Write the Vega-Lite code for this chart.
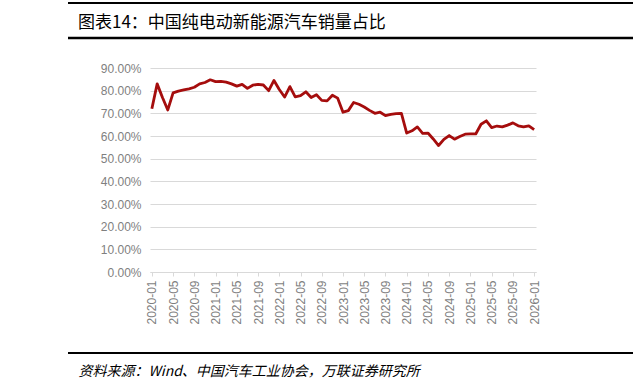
{
  "$schema": "https://vega.github.io/schema/vega-lite/v6.json",
  "width": 386,
  "height": 204,
  "autosize": {"type": "none"},
  "padding": {"left": 150, "top": 68, "right": 97, "bottom": 117},
  "background": "#ffffff",
  "config": {"view": {"stroke": null}, "font": "Liberation Sans"},
  "title": {
    "text": "图表14：中国纯电动新能源汽车销量占比",
    "anchor": "start",
    "frame": "group",
    "dx": -72,
    "dy": 34,
    "font": "Noto Sans CJK SC",
    "fontSize": 17,
    "fontWeight": "normal",
    "color": "#000000"
  },
  "layer": [
    {
      "data": {
        "values": [
          {"month": "2020-01", "share": 0.720}, {"month": "2020-02", "share": 0.830}, {"month": "2020-03", "share": 0.770}, {"month": "2020-04", "share": 0.715},
          {"month": "2020-05", "share": 0.790}, {"month": "2020-06", "share": 0.798}, {"month": "2020-07", "share": 0.803}, {"month": "2020-08", "share": 0.808},
          {"month": "2020-09", "share": 0.815}, {"month": "2020-10", "share": 0.830}, {"month": "2020-11", "share": 0.836}, {"month": "2020-12", "share": 0.848},
          {"month": "2021-01", "share": 0.840}, {"month": "2021-02", "share": 0.841}, {"month": "2021-03", "share": 0.838}, {"month": "2021-04", "share": 0.830},
          {"month": "2021-05", "share": 0.820}, {"month": "2021-06", "share": 0.828}, {"month": "2021-07", "share": 0.810}, {"month": "2021-08", "share": 0.824},
          {"month": "2021-09", "share": 0.828}, {"month": "2021-10", "share": 0.825}, {"month": "2021-11", "share": 0.800}, {"month": "2021-12", "share": 0.845},
          {"month": "2022-01", "share": 0.805}, {"month": "2022-02", "share": 0.772}, {"month": "2022-03", "share": 0.818}, {"month": "2022-04", "share": 0.773},
          {"month": "2022-05", "share": 0.778}, {"month": "2022-06", "share": 0.795}, {"month": "2022-07", "share": 0.770}, {"month": "2022-08", "share": 0.782},
          {"month": "2022-09", "share": 0.757}, {"month": "2022-10", "share": 0.755}, {"month": "2022-11", "share": 0.780}, {"month": "2022-12", "share": 0.767},
          {"month": "2023-01", "share": 0.705}, {"month": "2023-02", "share": 0.712}, {"month": "2023-03", "share": 0.748}, {"month": "2023-04", "share": 0.740},
          {"month": "2023-05", "share": 0.728}, {"month": "2023-06", "share": 0.713}, {"month": "2023-07", "share": 0.700}, {"month": "2023-08", "share": 0.705},
          {"month": "2023-09", "share": 0.690}, {"month": "2023-10", "share": 0.695}, {"month": "2023-11", "share": 0.699}, {"month": "2023-12", "share": 0.700},
          {"month": "2024-01", "share": 0.613}, {"month": "2024-02", "share": 0.623}, {"month": "2024-03", "share": 0.640}, {"month": "2024-04", "share": 0.612},
          {"month": "2024-05", "share": 0.613}, {"month": "2024-06", "share": 0.587}, {"month": "2024-07", "share": 0.558}, {"month": "2024-08", "share": 0.585},
          {"month": "2024-09", "share": 0.602}, {"month": "2024-10", "share": 0.586}, {"month": "2024-11", "share": 0.598}, {"month": "2024-12", "share": 0.608},
          {"month": "2025-01", "share": 0.609}, {"month": "2025-02", "share": 0.609}, {"month": "2025-03", "share": 0.652}, {"month": "2025-04", "share": 0.667},
          {"month": "2025-05", "share": 0.637}, {"month": "2025-06", "share": 0.644}, {"month": "2025-07", "share": 0.640}, {"month": "2025-08", "share": 0.648},
          {"month": "2025-09", "share": 0.658}, {"month": "2025-10", "share": 0.645}, {"month": "2025-11", "share": 0.640}, {"month": "2025-12", "share": 0.645},
          {"month": "2026-01", "share": 0.628}
        ]
      },
      "mark": {"type": "line", "color": "#a50d0d", "strokeWidth": 2.8, "strokeJoin": "round"},
      "encoding": {
        "x": {
          "field": "month",
          "type": "ordinal",
          "scale": {"type": "point", "padding": 0.35},
          "axis": {
            "values": ["2020-01","2020-05","2020-09","2021-01","2021-05","2021-09","2022-01","2022-05","2022-09","2023-01","2023-05","2023-09","2024-01","2024-05","2024-09","2025-01","2025-05","2025-09","2026-01"],
            "labelAngle": -90,
            "labelAlign": "right",
            "labelBaseline": "middle",
            "labelFontSize": 12,
            "labelColor": "#7f7f7f",
            "labelPadding": 4,
            "domainColor": "#d9d9d9",
            "tickColor": "#d9d9d9",
            "tickSize": 4,
            "grid": false,
            "title": "资料来源：Wind、中国汽车工业协会，万联证券研究所",
            "titleAnchor": "start",
            "titleAlign": "left",
            "titleBaseline": "middle",
            "titleX": -72,
            "titleY": 99,
            "titleFont": "Noto Sans CJK SC",
            "titleFontSize": 14,
            "titleFontWeight": "normal",
            "titleFontStyle": "italic",
            "titleColor": "#000000"
          }
        },
        "y": {
          "field": "share",
          "type": "quantitative",
          "scale": {"domain": [0, 0.9], "nice": false},
          "axis": {
            "values": [0, 0.1, 0.2, 0.3, 0.4, 0.5, 0.6, 0.7, 0.8, 0.9],
            "format": ".2%",
            "labelFontSize": 12,
            "labelColor": "#7f7f7f",
            "labelPadding": 9,
            "domain": false,
            "ticks": false,
            "gridColor": "#d9d9d9",
            "title": null
          }
        }
      }
    },
    {
      "data": {"values": [{}]},
      "mark": {"type": "rule", "strokeWidth": 2, "color": "#000000"},
      "encoding": {"x": {"value": -82}, "x2": {"value": 483}, "y": {"value": -65}}
    },
    {
      "data": {"values": [{}]},
      "mark": {"type": "rule", "strokeWidth": 2.5, "color": "#000000"},
      "encoding": {"x": {"value": -82}, "x2": {"value": 483}, "y": {"value": -30}}
    },
    {
      "data": {"values": [{}]},
      "mark": {"type": "rule", "strokeWidth": 2, "color": "#000000"},
      "encoding": {"x": {"value": -82}, "x2": {"value": 483}, "y": {"value": 285}}
    }
  ]
}
